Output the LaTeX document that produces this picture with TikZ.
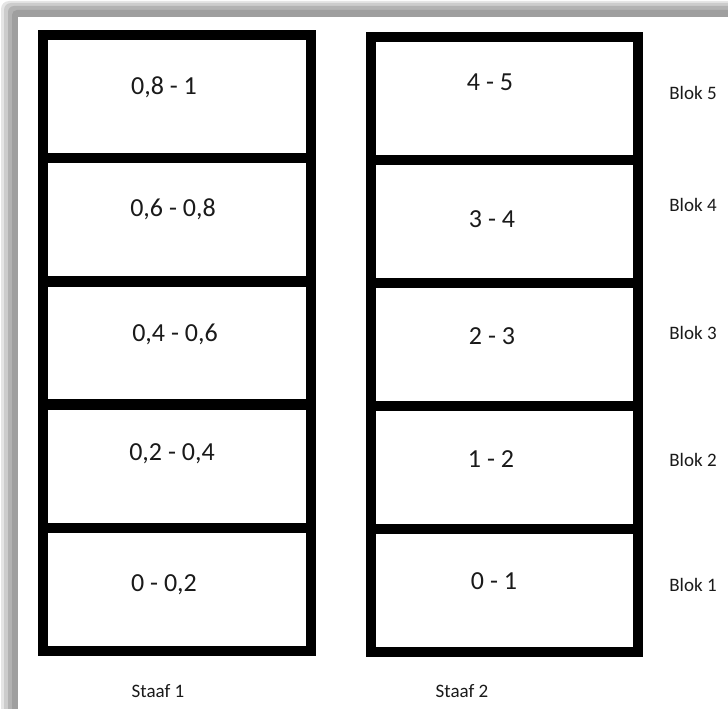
\documentclass[tikz,border=0pt]{standalone}
\usepackage{fontspec}
\setmainfont{Carlito}
\usetikzlibrary{positioning}
\definecolor{StaafInk}{HTML}{1A1A1A}

\begin{document}
\begin{tikzpicture}[
    x=1pt, y=-1pt,
    cell/.style={draw=black, line width=10.5pt, outer sep=0pt, inner sep=0pt,
                 minimum width=268pt, minimum height=123.2pt},
    cellb/.style={cell, minimum width=267pt, minimum height=123pt},
    val/.style={font=\fontsize{26}{30}\selectfont, text=StaafInk,
                text depth=0pt, inner sep=0pt},
    blok/.style={font=\fontsize{19}{23}\selectfont, text=StaafInk,
                 text depth=0pt, inner sep=0pt}
]
\clip (0,0) rectangle (728,709);
% page with its shadow
\fill[gray!20, rounded corners=8pt] (1,1) rectangle (760,740);
\fill[gray!40, rounded corners=7pt] (4,3) rectangle (760,740);
\fill[gray!60, rounded corners=6pt] (8,6) rectangle (760,740);
\fill[gray!75, rounded corners=5pt] (12,10) rectangle (760,740);
\fill[white] (18,17) rectangle (760,740);

% Staaf 1
\node[cell] (a5) at (177,96.6) {};
\node[cell, below=0pt of a5] (a4) {};
\node[cell, below=0pt of a4] (a3) {};
\node[cell, below=0pt of a3] (a2) {};
\node[cell, below=0pt of a2] (a1) {};

% Staaf 2
\node[cellb] (b5) at (504.5,98.5) {};
\node[cellb, below=0pt of b5] (b4) {};
\node[cellb, below=0pt of b4] (b3) {};
\node[cellb, below=0pt of b3] (b2) {};
\node[cellb, below=0pt of b2] (b1) {};

\node[val] (va5) at (164,86) {0,8 - 1};
\node[val] (va4) at (173,208) {0,6 - 0,8};
\node[val] (va3) at (175,333) {0,4 - 0,6};
\node[val] (va2) at (172,452) {0,2 - 0,4};
\node[val] (va1) at (164,583) {0 - 0,2};

\node[val] (vb5) at (490,82) {4 - 5};
\node[val] (vb4) at (492,219) {3 - 4};
\node[val] (vb3) at (492,336) {2 - 3};
\node[val] (vb2) at (491,459) {1 - 2};
\node[val] (vb1) at (494,581) {0 - 1};

\node[blok] (k5) at (693,93) {Blok 5};
\node[blok] (k4) at (693,205) {Blok 4};
\node[blok] (k3) at (693,333) {Blok 3};
\node[blok] (k2) at (693,460) {Blok 2};
\node[blok] (k1) at (693,585) {Blok 1};

\node[blok] (st1) at (158,691) {Staaf 1};
\node[blok] (st2) at (462,691) {Staaf 2};
\end{tikzpicture}
\end{document}
